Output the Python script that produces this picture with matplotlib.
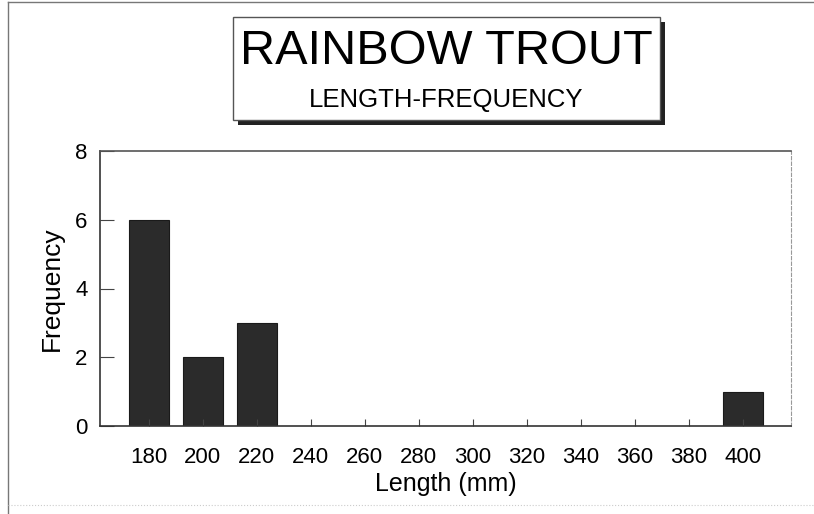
import matplotlib.pyplot as plt
from matplotlib.patches import Rectangle
from matplotlib.lines import Line2D

plt.rcParams['font.family'] = ['Liberation Sans', 'DejaVu Sans']

# Length classes (mm) and counts
lengths = [180, 200, 220, 400]
counts = [6, 2, 3, 1]
xticks = [180, 200, 220, 240, 260, 280, 300, 320, 340, 360, 380, 400]
yticks = [0, 2, 4, 6, 8]

fig = plt.figure(figsize=(8.14, 5.14), dpi=100)
W, H = 814, 514

ax = fig.add_axes([100 / W, 1 - 426 / H, 691 / W, 275 / H])
ax.bar(lengths, counts, width=14.8, color='#2b2b2b', edgecolor='#1a1a1a', linewidth=0.8)

ax.set_xlim(161.9, 417.8)
ax.set_ylim(0, 8)
ax.set_xticks(xticks)
ax.set_yticks(yticks)
ax.tick_params(axis='both', direction='in', length=5, width=0.8, color='#444444',
               labelsize=16, pad=15)
ax.tick_params(axis='y', pad=9, length=10)
ax.set_xlabel('Length (mm)', fontsize=18, labelpad=3)
ax.set_ylabel('Frequency', fontsize=19, labelpad=8)

for side in ['left', 'bottom']:
    ax.spines[side].set_color('#333333')
    ax.spines[side].set_linewidth(1.2)
ax.spines['right'].set_color('#999999')
ax.spines['right'].set_linewidth(0.8)
ax.spines['right'].set_linestyle((0, (3, 2)))
ax.spines['top'].set_color('#555555')
ax.spines['top'].set_linewidth(1.2)

# title box with drop shadow
bx, by, bw, bh = 233 / W, 1 - 120 / H, 427 / W, 103 / H
fig.patches.append(Rectangle((bx + 5 / W, by - 5 / H), bw, bh, transform=fig.transFigure,
                             facecolor='#222222', edgecolor='none', zorder=1))
fig.patches.append(Rectangle((bx, by), bw, bh, transform=fig.transFigure,
                             facecolor='white', edgecolor='#555555', linewidth=1.0, zorder=2))
fig.text((233 + 427 / 2) / W, 1 - 52 / H, 'RAINBOW TROUT', fontsize=35,
         ha='center', va='center', zorder=3)
fig.text((233 + 427 / 2) / W, 1 - 100 / H, 'LENGTH-FREQUENCY', fontsize=18.5,
         ha='center', va='center', zorder=3)

# outer frame
fig.lines.append(Line2D([8 / W, 8 / W], [0, 1 - 2 / H], transform=fig.transFigure,
                        color='#777777', linewidth=1.0))
fig.lines.append(Line2D([8 / W, 1], [1 - 2 / H, 1 - 2 / H], transform=fig.transFigure,
                        color='#777777', linewidth=1.0))
fig.lines.append(Line2D([8 / W, 1], [1 - 505 / H, 1 - 505 / H], transform=fig.transFigure,
                        color='#cccccc', linewidth=0.8, linestyle=':'))

fig.savefig('out.png', dpi=100)
